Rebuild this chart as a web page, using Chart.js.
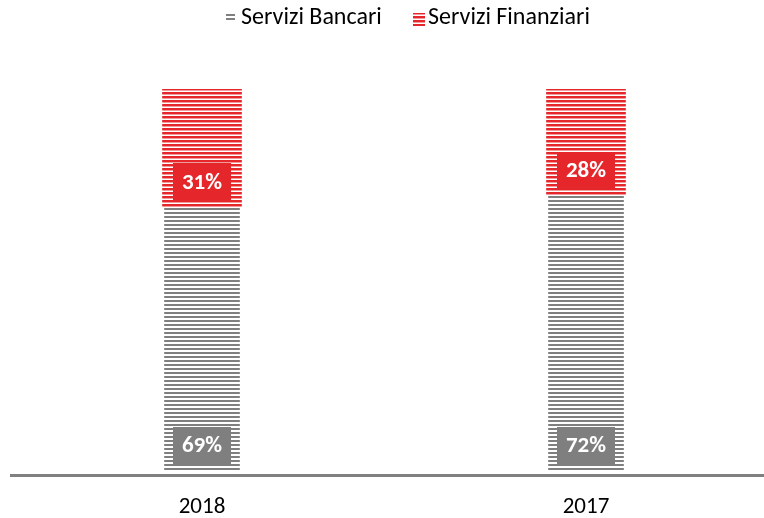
<!DOCTYPE html>
<html>
<head>
<meta charset="utf-8">
<script src="https://cdn.jsdelivr.net/npm/chart.js@4"></script>
<style>
  html, body { margin: 0; padding: 0; background: #fff; overflow: hidden; }
  #wrap { width: 764px; height: 518px; overflow: hidden; }
</style>
</head>
<body>
<div id="wrap"><canvas id="c" width="778" height="518"></canvas></div>
<script>
const categories = ['2018', '2017'];
const seriesNames = ['Servizi Bancari', 'Servizi Finanziari'];
const bancari = [69, 72];
const finanziari = [31, 28];
const valueLabels = [['69%', '72%'], ['31%', '28%']];

const FONT = "Carlito, Lato, 'Liberation Sans', sans-serif";
const RED = '#E5262B';
const GRAY = '#7F7F7F';

function stripe(colorMain, colorMid, lineH, midH, period) {
  const c = document.createElement('canvas');
  c.width = 8; c.height = period;
  const x = c.getContext('2d');
  x.fillStyle = '#ffffff';
  x.fillRect(0, 0, 8, period);
  x.fillStyle = colorMain;
  x.fillRect(0, 0, 8, lineH);
  if (midH) { x.fillStyle = colorMid; x.fillRect(0, lineH, 8, midH); }
  return x.createPattern(c, 'repeat');
}
const grayPat = stripe(GRAY, '#C8C8C8', 2, 0, 4);
const redPat = stripe(RED, '#F19A9C', 2, 1, 4);

const labelPlugin = {
  id: 'labels',
  afterDatasetsDraw(chart) {
    const ctx = chart.ctx;
    chart.data.datasets.forEach((ds, di) => {
      const meta = chart.getDatasetMeta(di);
      meta.data.forEach((el, i) => {
        const bottom = el.base - 7;
        const h = 37, w = 58;
        ctx.save();
        ctx.fillStyle = di === 0 ? GRAY : RED;
        ctx.fillRect(Math.round(el.x - w / 2), Math.round(bottom - h), w, h);
        ctx.fillStyle = '#fff';
        ctx.font = 'bold 23px ' + FONT;
        ctx.textAlign = 'center';
        ctx.textBaseline = 'middle';
        ctx.fillText(valueLabels[di][i], el.x, bottom - h / 2 + 1);
        ctx.restore();
      });
    });
  },
  afterDraw(chart) {
    const ctx = chart.ctx;
    ctx.save();
    ctx.strokeStyle = '#808080';
    ctx.lineWidth = 3;
    ctx.beginPath();
    ctx.moveTo(10, 475.5);
    ctx.lineTo(778, 475.5);
    ctx.stroke();
    ctx.font = '24px ' + FONT;
    ctx.textBaseline = 'middle';
    ctx.fillStyle = GRAY;
    ctx.fillRect(226, 14, 9, 2);
    ctx.fillRect(226, 18, 9, 2);
    ctx.fillStyle = '#000';
    ctx.fillText(seriesNames[0], 241, 18);
    ctx.fillStyle = redPat;
    ctx.fillRect(413, 13, 12, 13);
    ctx.fillStyle = '#000';
    ctx.fillText(seriesNames[1], 428, 18);
    ctx.restore();
  }
};

new Chart(document.getElementById('c'), {
  type: 'bar',
  data: {
    labels: categories,
    datasets: [
      { label: seriesNames[0], data: bancari, backgroundColor: grayPat,
        borderColor: '#ffffff', borderWidth: { left: 2, right: 2, top: 0, bottom: 0 }, borderSkipped: false,
        barThickness: 79 },
      { label: seriesNames[1], data: finanziari, backgroundColor: redPat,
        borderWidth: 0, barThickness: 79 }
    ]
  },
  options: {
    responsive: false,
    animation: false,
    events: [],
    layout: { padding: { top: 89, left: 10, right: 0, bottom: 0 } },
    plugins: { legend: { display: false }, tooltip: { enabled: false } },
    scales: {
      x: {
        stacked: true,
        grid: { display: false, drawTicks: false },
        border: { display: false },
        ticks: { color: '#000', font: { family: FONT, size: 23 }, padding: 22, maxRotation: 0, autoSkip: false },
        afterFit(scale) { scale.height = 47; }
      },
      y: {
        stacked: true,
        display: false,
        min: 0, max: 100
      }
    }
  },
  plugins: [labelPlugin]
});
</script>
</body>
</html>
